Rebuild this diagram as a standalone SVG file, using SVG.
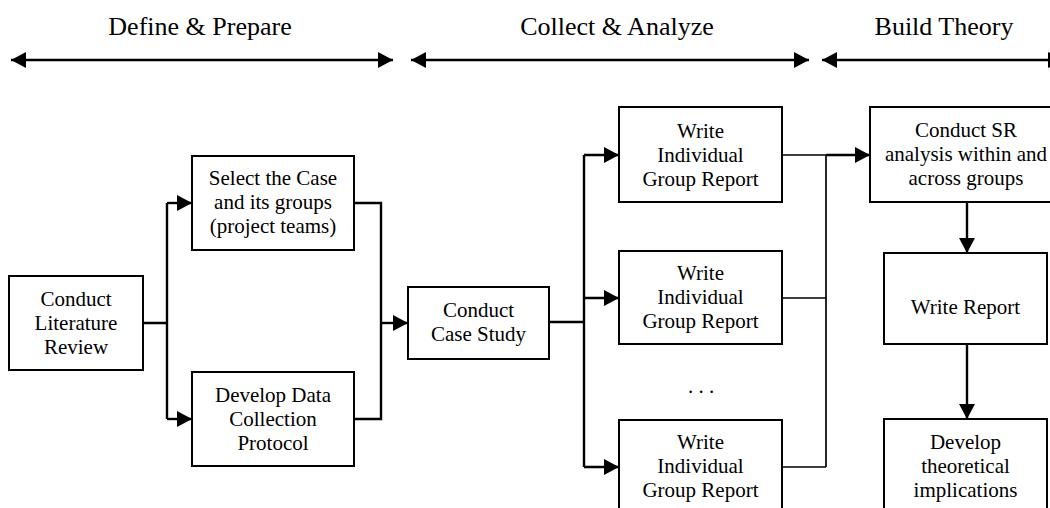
<svg xmlns="http://www.w3.org/2000/svg" width="1050" height="508" viewBox="0 0 1050 508">
<style>
.box{fill:#fff;stroke:#000;stroke-width:2}
.t{font-family:"Liberation Serif","Times New Roman",serif;font-size:21px;fill:#000;text-anchor:middle}
.h{font-family:"Liberation Serif","Times New Roman",serif;font-size:26px;fill:#000;text-anchor:middle}
.c{fill:none;stroke:#000;stroke-width:2.4}
.ct{fill:none;stroke:#000;stroke-width:1.7}
.a{fill:none;stroke:#000;stroke-width:2.4;marker-end:url(#ah)}
.d{fill:none;stroke:#000;stroke-width:2.7;marker-start:url(#ah2);marker-end:url(#ah2)}
</style>
<defs>
<marker id="ah" markerUnits="userSpaceOnUse" markerWidth="15" markerHeight="16" refX="15" refY="8" orient="auto"><path d="M0,0 L15,8 L0,16 z" fill="#000"/></marker>
<marker id="ah2" markerUnits="userSpaceOnUse" markerWidth="15" markerHeight="16" refX="15" refY="8" orient="auto-start-reverse"><path d="M0,0 L15,8 L0,16 z" fill="#000"/></marker>
</defs>
<g id="phases">
<text class="h" x="200" y="35">Define &amp; Prepare</text>
<text class="h" x="617" y="35">Collect &amp; Analyze</text>
<text class="h" x="944" y="35">Build Theory</text>
<path class="d" d="M11,60 H393"/>
<path class="d" d="M411,60 H809"/>
<path class="d" d="M822,60 H1063"/>
</g>
<g id="connectors">
<path class="c" d="M143,323 H167 M167,203 V419"/>
<path class="a" d="M167,203 H192"/>
<path class="a" d="M167,419 H192"/>
<path class="c" d="M354,203 H381 V419 H354"/>
<path class="a" d="M381,323 H408"/>
<path class="c" d="M549,322 H584 M584,155 V467"/>
<path class="a" d="M584,155 H619"/>
<path class="a" d="M584,298 H619"/>
<path class="a" d="M584,467 H619"/>
<path class="ct" d="M782,155 H826 M782,298 H826 M782,467 H826 M826,155 V467"/>
<path class="a" d="M826,155 H870"/>
<path class="a" d="M967,202 V253"/>
<path class="a" d="M967,344 V419"/>
</g>
<g id="n1"><rect class="box" x="9" y="276" width="134" height="94"/>
<text class="t" x="76" y="306">Conduct</text><text class="t" x="76" y="330">Literature</text><text class="t" x="76" y="354">Review</text></g>
<g id="n2"><rect class="box" x="192" y="156" width="162" height="94"/>
<text class="t" x="273" y="185">Select the Case</text><text class="t" x="273" y="209">and its groups</text><text class="t" x="273" y="233">(project teams)</text></g>
<g id="n3"><rect class="box" x="192" y="372" width="162" height="94"/>
<text class="t" x="273" y="402">Develop Data</text><text class="t" x="273" y="426">Collection</text><text class="t" x="273" y="450">Protocol</text></g>
<g id="n4"><rect class="box" x="408" y="287" width="141" height="72"/>
<text class="t" x="478.5" y="317">Conduct</text><text class="t" x="478.5" y="341">Case Study</text></g>
<g id="n5"><rect class="box" x="619" y="107" width="163" height="95"/>
<text class="t" x="700.5" y="138">Write</text><text class="t" x="700.5" y="162">Individual</text><text class="t" x="700.5" y="186">Group Report</text></g>
<g id="n6"><rect class="box" x="619" y="251" width="163" height="93"/>
<text class="t" x="700.5" y="280">Write</text><text class="t" x="700.5" y="304">Individual</text><text class="t" x="700.5" y="328">Group Report</text></g>
<g id="ellipsis"><text class="t" x="701" y="393">. . .</text></g>
<g id="n7"><rect class="box" x="619" y="420" width="163" height="95"/>
<text class="t" x="700.5" y="449">Write</text><text class="t" x="700.5" y="473">Individual</text><text class="t" x="700.5" y="497">Group Report</text></g>
<g id="n8"><rect class="box" x="870" y="107" width="194" height="95"/>
<text class="t" x="966" y="137">Conduct SR</text><text class="t" x="966" y="161">analysis within and</text><text class="t" x="966" y="185">across groups</text></g>
<g id="n9"><rect class="box" x="884" y="253" width="163" height="91"/>
<text class="t" x="965.5" y="314">Write Report</text></g>
<g id="n10"><rect class="box" x="884" y="419" width="163" height="96"/>
<text class="t" x="965.5" y="449">Develop</text><text class="t" x="965.5" y="473">theoretical</text><text class="t" x="965.5" y="497">implications</text></g>
</svg>
